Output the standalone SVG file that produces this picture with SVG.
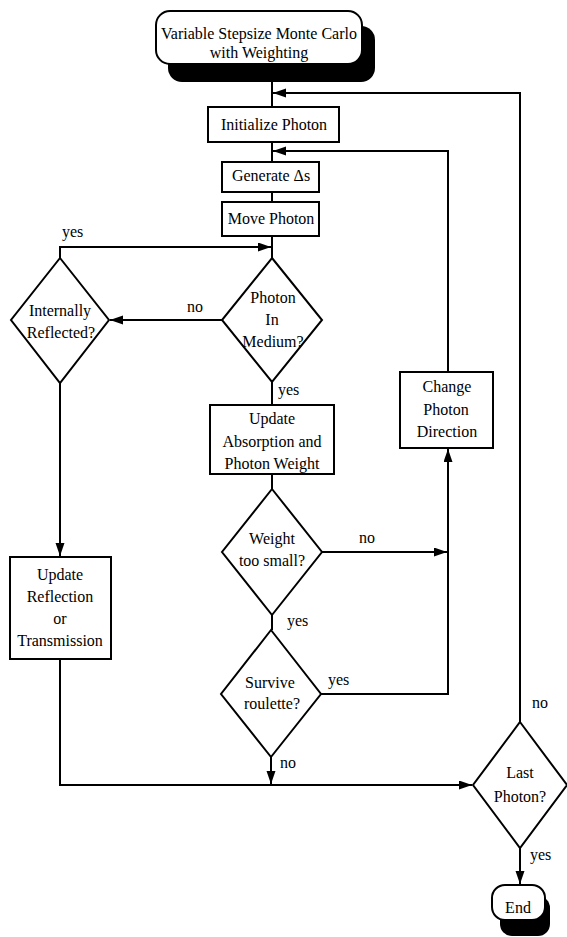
<svg xmlns="http://www.w3.org/2000/svg" width="567" height="937" viewBox="0 0 567 937">
<style>
.box{fill:#fff;stroke:#000;stroke-width:2}
.shadow{fill:#000;stroke:none}
.ln{fill:none;stroke:#000;stroke-width:2}
.t{font-family:'Liberation Serif',serif;font-size:16px;fill:#000;text-anchor:middle}
.lb{font-family:'Liberation Serif',serif;font-size:16px;fill:#000}
</style>
<defs>
<marker id="ah" markerUnits="userSpaceOnUse" markerWidth="14" markerHeight="10" refX="13" refY="4.5" orient="auto">
<path d="M0,0 L13,4.5 L0,9 z" fill="#000"/>
</marker>
</defs>
<rect width="567" height="937" fill="#fff"/>
<g id="connectors">
<path class="ln" d="M272,64 V107"/>
<path class="ln" d="M520,722 V93 H273" marker-end="url(#ah)"/>
<path class="ln" d="M272,142 V162"/>
<path class="ln" d="M448,372 V151 H273" marker-end="url(#ah)"/>
<path class="ln" d="M272,192 V202"/>
<path class="ln" d="M272,236 V258"/>
<path class="ln" d="M60,258 V247 H271" marker-end="url(#ah)"/>
<path class="ln" d="M222,320 H110" marker-end="url(#ah)"/>
<path class="ln" d="M272,382 V405"/>
<path class="ln" d="M272,474 V489"/>
<path class="ln" d="M322,552 H447" marker-end="url(#ah)"/>
<path class="ln" d="M321,694 H448 V449" marker-end="url(#ah)"/>
<path class="ln" d="M272,615 V630"/>
<path class="ln" d="M271,757 V784" marker-end="url(#ah)"/>
<path class="ln" d="M60,383 V556" marker-end="url(#ah)"/>
<path class="ln" d="M60,659 V785 H472" marker-end="url(#ah)"/>
<path class="ln" d="M520,848 V884" marker-end="url(#ah)"/>
</g>
<g font-family="Liberation Serif, serif" font-size="16">
<g id="start">
<rect class="shadow" x="168" y="26" width="207" height="56" rx="14"/>
<rect class="box" x="156" y="11" width="206" height="53" rx="14"/>
<text class="t" font-family="Liberation Serif, serif" x="259" y="39" font-size="16.5">Variable Stepsize Monte Carlo</text>
<text class="t" font-family="Liberation Serif, serif" x="259" y="58" font-size="16.5">with Weighting</text>
</g>
<g id="init">
<rect class="box" x="208" y="107" width="131" height="35"/>
<text class="t" font-family="Liberation Serif, serif" x="274" y="130">Initialize Photon</text>
</g>
<g id="generate">
<rect class="box" x="222" y="162" width="97" height="30"/>
<text class="t" font-family="Liberation Serif, serif" x="271" y="181">Generate Δs</text>
</g>
<g id="move">
<rect class="box" x="222" y="202" width="97" height="34"/>
<text class="t" font-family="Liberation Serif, serif" x="271" y="224">Move Photon</text>
</g>
<g id="inmedium">
<polygon class="box" points="272,258 322,320 272,382 222,320"/>
<text class="t" font-family="Liberation Serif, serif" x="273" y="303">Photon</text>
<text class="t" font-family="Liberation Serif, serif" x="272" y="325">In</text>
<text class="t" font-family="Liberation Serif, serif" x="273" y="347">Medium?</text>
</g>
<g id="internal">
<polygon class="box" points="60,258 109,320 60,383 11,320"/>
<text class="t" font-family="Liberation Serif, serif" x="60" y="316">Internally</text>
<text class="t" font-family="Liberation Serif, serif" x="61" y="338">Reflected?</text>
</g>
<g id="absorb">
<rect class="box" x="210" y="405" width="124" height="69"/>
<text class="t" font-family="Liberation Serif, serif" x="272" y="424">Update</text>
<text class="t" font-family="Liberation Serif, serif" x="272" y="447">Absorption and</text>
<text class="t" font-family="Liberation Serif, serif" x="272" y="469">Photon Weight</text>
</g>
<g id="weight">
<polygon class="box" points="272,489 322,552 272,615 222,552"/>
<text class="t" font-family="Liberation Serif, serif" x="272" y="544">Weight</text>
<text class="t" font-family="Liberation Serif, serif" x="272" y="566">too small?</text>
</g>
<g id="survive">
<polygon class="box" points="271,630 321,694 271,757 221,694"/>
<text class="t" font-family="Liberation Serif, serif" x="270" y="688">Survive</text>
<text class="t" font-family="Liberation Serif, serif" x="272" y="709">roulette?</text>
</g>
<g id="change">
<rect class="box" x="400" y="372" width="93" height="76"/>
<text class="t" font-family="Liberation Serif, serif" x="447" y="392">Change</text>
<text class="t" font-family="Liberation Serif, serif" x="446" y="415">Photon</text>
<text class="t" font-family="Liberation Serif, serif" x="447" y="437">Direction</text>
</g>
<g id="reflect">
<rect class="box" x="10" y="557" width="101" height="102"/>
<text class="t" font-family="Liberation Serif, serif" x="60" y="580">Update</text>
<text class="t" font-family="Liberation Serif, serif" x="60" y="602">Reflection</text>
<text class="t" font-family="Liberation Serif, serif" x="60" y="624">or</text>
<text class="t" font-family="Liberation Serif, serif" x="60" y="646">Transmission</text>
</g>
<g id="last">
<polygon class="box" points="520,722 567,785 520,848 473,785"/>
<text class="t" font-family="Liberation Serif, serif" x="520" y="778">Last</text>
<text class="t" font-family="Liberation Serif, serif" x="520" y="802">Photon?</text>
</g>
<g id="end">
<rect class="shadow" x="500" y="896" width="50" height="40" rx="12"/>
<rect class="box" x="492" y="885" width="53" height="35" rx="13"/>
<text class="t" font-family="Liberation Serif, serif" x="518" y="913">End</text>
</g>
<g id="labels">
<text class="lb" font-family="Liberation Serif, serif" x="62" y="237">yes</text>
<text class="lb" font-family="Liberation Serif, serif" x="187" y="312">no</text>
<text class="lb" font-family="Liberation Serif, serif" x="278" y="395">yes</text>
<text class="lb" font-family="Liberation Serif, serif" x="359" y="543">no</text>
<text class="lb" font-family="Liberation Serif, serif" x="287" y="626">yes</text>
<text class="lb" font-family="Liberation Serif, serif" x="328" y="685">yes</text>
<text class="lb" font-family="Liberation Serif, serif" x="280" y="768">no</text>
<text class="lb" font-family="Liberation Serif, serif" x="532" y="708">no</text>
<text class="lb" font-family="Liberation Serif, serif" x="530" y="860">yes</text>
</g>
</g>
</svg>
